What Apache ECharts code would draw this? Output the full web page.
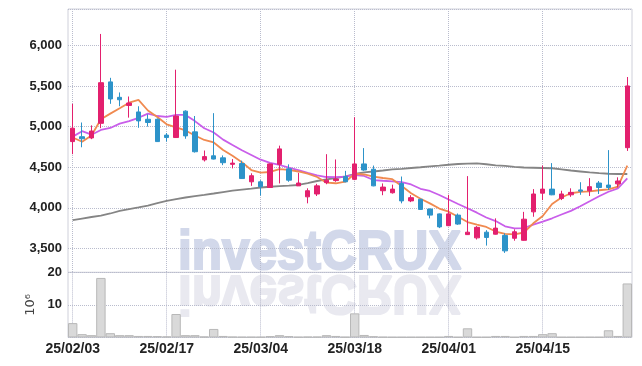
<!DOCTYPE html>
<html><head><meta charset="utf-8">
<script src="https://cdn.jsdelivr.net/npm/echarts@6/dist/echarts.min.js"></script>
<style>html,body{margin:0;padding:0;background:#fff}#c{width:642px;height:366px}</style>
</head><body><div id="c"></div>
<script>
const dates = ["25/02/03","25/02/04","25/02/05","25/02/06","25/02/07","25/02/10","25/02/11","25/02/12","25/02/13","25/02/14",
"25/02/17","25/02/18","25/02/19","25/02/20","25/02/21","25/02/24","25/02/25","25/02/26","25/02/27","25/02/28",
"25/03/04","25/03/05","25/03/06","25/03/07","25/03/10","25/03/11","25/03/12","25/03/13","25/03/14","25/03/17",
"25/03/18","25/03/19","25/03/20","25/03/21","25/03/24","25/03/25","25/03/26","25/03/27","25/03/28","25/03/31",
"25/04/01","25/04/02","25/04/03","25/04/04","25/04/07","25/04/08","25/04/09","25/04/10","25/04/11","25/04/14",
"25/04/15","25/04/16","25/04/17","25/04/18","25/04/21","25/04/22","25/04/23","25/04/24","25/04/25","25/04/28"];
const openPrices = [4815,4875,4860,5040,5550,5360,5260,5180,5090,5090,4895,4865,5190,4935,4590,4640,4615,4535,4545,4320,
4320,4250,4535,4480,4270,4135,4170,4310,4335,4385,4350,4540,4475,4210,4185,4300,4085,4105,3985,3925,
3780,3910,3670,3630,3700,3675,3660,3625,3600,3950,4180,4230,4115,4160,4220,4210,4305,4280,4295,4740];
const closePrices = [4980,4850,4945,5540,5340,5330,5290,5070,5050,4815,4865,5130,4885,4690,4630,4600,4555,4550,4360,4395,
4260,4540,4725,4340,4305,4210,4270,4340,4355,4320,4540,4465,4270,4255,4230,4085,4125,3980,3910,3765,
3925,3800,3700,3760,3635,3750,3470,3705,3860,4170,4230,4160,4170,4190,4205,4260,4250,4250,4330,5500];
const lowPrices = [4660,4745,4845,4980,5280,5250,5110,4985,5000,4810,4815,4860,4850,4680,4570,4595,4525,4485,4355,4270,
4150,4245,4300,4320,4270,4055,4145,4290,4320,4315,4340,4455,4265,4155,4175,4055,4070,3975,3870,3750,
3775,3790,3665,3610,3535,3670,3445,3595,3595,3890,4095,4155,4095,4135,4160,4145,4170,4220,4250,4700];
const highPrices = [5280,5050,5015,6140,5600,5420,5370,5250,5150,5100,4920,5700,5200,5130,4705,5165,4645,4600,4580,4425,
4340,4545,4765,4535,4430,4240,4295,4660,4595,4455,5115,4735,4520,4300,4285,4385,4155,4110,3990,3930,
4160,3930,4390,3775,3725,3870,3685,3735,3950,4230,4520,4550,4210,4240,4315,4365,4330,4710,4375,5610];
const ma5 = [4866,4813,4890,5090,5159,5225,5294,5328,5198,5118,5028,4989,4952,4890,4835,4804,4712,4640,4562,4465,
4432,4441,4475,4468,4447,4420,4379,4309,4302,4321,4419,4410,4383,4367,4352,4268,4179,4112,4055,3991,
3952,3890,3825,3792,3764,3708,3680,3674,3696,3809,3899,4047,4127,4179,4195,4203,4216,4228,4260,4518];
const ma10 = [4876,4943,4900,4958,4983,5036,5067,5108,5159,5130,5118,5143,5143,5067,4979,4927,4839,4773,4708,4650,
4592,4552,4527,4494,4465,4429,4400,4379,4377,4383,4404,4392,4342,4333,4326,4315,4287,4234,4207,4158,
4102,4047,3994,3940,3881,3837,3772,3748,3751,3792,3829,3871,3918,3963,4019,4080,4142,4198,4240,4363];
const maLong = [3849,3868,3887,3903,3930,3961,3985,4004,4028,4057,4084,4108,4127,4145,4160,4176,4194,4212,4225,4237,
4250,4259,4268,4274,4281,4305,4330,4349,4367,4386,4416,4435,4447,4459,4472,4480,4490,4499,4509,4518,
4530,4539,4545,4548,4536,4523,4515,4505,4496,4493,4490,4487,4474,4459,4447,4435,4426,4419,4416,4416];
const volumes = [4.4,1.0,0.7,18.3,1.3,0.7,0.7,0.45,0.45,0.4,0.3,7.2,0.7,0.7,0.25,2.6,0.45,0.2,0.15,0.15,
0.15,0.4,0.7,0.4,0.15,0.2,0.2,0.7,0.45,0.15,7.4,0.75,0.35,0.15,0.1,0.1,0.1,0.1,0.1,0.1,
0.45,0.1,2.8,0.1,0.1,0.45,0.45,0.1,0.45,0.45,1.0,1.3,0.1,0.1,0.1,0.1,0.1,2.2,0.45,16.6];
const priceStep = 500;
const volumeTicks = [0,10,20];

const candleData = dates.map((d,i)=>[openPrices[i],closePrices[i],lowPrices[i],highPrices[i]]);
const FONT = "'Liberation Sans',Arial,sans-serif";
const GRID_LINE = {show:true, lineStyle:{color:'#b9bccd', type:'dotted', width:1}};
const WM_FONT = 'bold 55px "Liberation Sans", Arial, sans-serif';
const chart = echarts.init(document.getElementById('c'), null, {renderer:'canvas'});
chart.setOption({
  animation:false,
  backgroundColor:'#fff',
  grid:[
    {left:68, width:564, top:9, height:263.4, show:true, borderColor:'#cfd0da', borderWidth:1, outerBoundsMode:'none', containLabel:false},
    {left:68, width:564, top:272.4, height:65, show:true, borderColor:'#cfd0da', borderWidth:1, outerBoundsMode:'none', containLabel:false}
  ],
  graphic:[
    {type:'text', x:178, y:272.4, scaleX:0.9, z:-1, silent:true,
     style:{x:0, y:-19, text:'investCRUX', font:WM_FONT, fill:'#d2d8ea', stroke:'#d2d8ea', lineWidth:2.2, verticalAlign:'middle', textVerticalAlign:'middle', align:'left'}},
    {type:'text', x:178, y:272.4, scaleX:0.9, scaleY:-1, z:-1, silent:true,
     style:{x:0, y:-19, text:'investCRUX', font:WM_FONT, fill:'#e9e9f0', stroke:'#e9e9f0', lineWidth:2.2, verticalAlign:'middle', textVerticalAlign:'middle', align:'left'}}
  ],
  xAxis:[
    {type:'category', gridIndex:0, data:dates, boundaryGap:true,
     axisLine:{show:false}, axisTick:{show:false}, axisLabel:{show:false, interval:9},
     splitLine:Object.assign({interval:9, alignWithLabel:true}, GRID_LINE)},
    {type:'category', gridIndex:1, data:dates, boundaryGap:true,
     axisLine:{show:false}, axisTick:{show:false},
     axisLabel:{show:true, interval:9, margin:5, fontFamily:FONT, fontSize:14, fontWeight:'bold', color:'#222'},
     splitLine:Object.assign({interval:9, alignWithLabel:true}, GRID_LINE)}
  ],
  yAxis:[
    {type:'value', gridIndex:0, min:3205, max:6447, splitNumber:5, scale:true,
     axisLine:{show:false}, axisTick:{show:false},
     axisLabel:{margin:6, fontFamily:FONT, fontSize:13, fontWeight:'bold', color:'#222',
       formatter:v=> (Math.abs(v % priceStep) < 1e-6 ? v.toLocaleString('en-US') : '')},
     splitLine:GRID_LINE},
    {type:'value', gridIndex:1, min:volumeTicks[0], max:volumeTicks[2], interval:volumeTicks[1]-volumeTicks[0],
     name:'10\u2076', nameLocation:'middle', nameRotate:90, nameGap:23,
     nameTextStyle:{fontFamily:'DejaVu Sans', fontSize:13, color:'#444'},
     axisLine:{show:false}, axisTick:{show:false},
     axisLabel:{margin:6, fontFamily:FONT, fontSize:13, fontWeight:'bold', color:'#222', showMinLabel:false,
       formatter:v=> (v===0 ? '' : String(v))},
     splitLine:GRID_LINE}
  ],
  series:[
    {type:'line', xAxisIndex:0, yAxisIndex:0, data:maLong, showSymbol:false, symbol:'none', z:3,
     lineStyle:{color:'#858585', width:1.8}},
    {type:'line', xAxisIndex:0, yAxisIndex:0, data:ma10, showSymbol:false, symbol:'none', z:3,
     lineStyle:{color:'#c95eea', width:1.8}},
    {type:'line', xAxisIndex:0, yAxisIndex:0, data:ma5, showSymbol:false, symbol:'none', z:3,
     lineStyle:{color:'#f08a50', width:1.8}},
    {type:'candlestick', xAxisIndex:0, yAxisIndex:0, data:candleData, barWidth:5, z:4,
     itemStyle:{color:'#e3206e', color0:'#2d93c9', borderColor:'#e3206e', borderColor0:'#2d93c9', borderWidth:1}},
    {type:'bar', xAxisIndex:1, yAxisIndex:1, data:volumes, barWidth:'100%', barCategoryGap:'0%',
     itemStyle:{color:'#d9d9d9', borderColor:'#b8b8b8', borderWidth:1}}
  ]
});
</script></body></html>
